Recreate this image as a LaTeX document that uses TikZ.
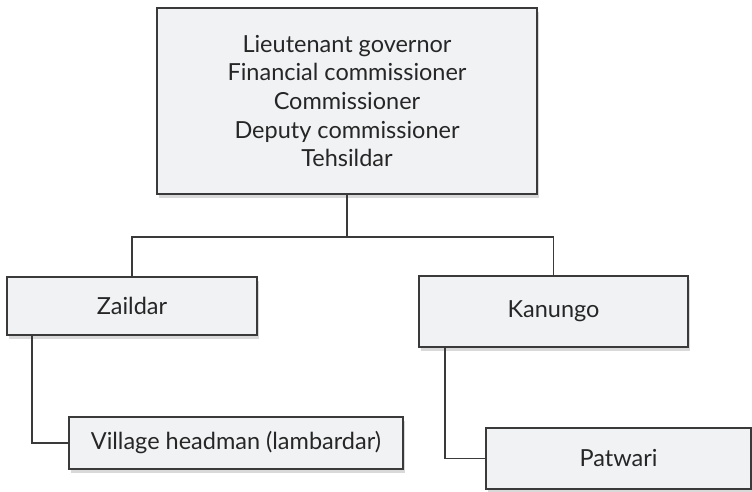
\documentclass[tikz,border=0pt]{standalone}
\usepackage{fontspec}
\setmainfont{Lato}
\usetikzlibrary{shadows}

\definecolor{boxfill}{HTML}{F1F2F4}
\definecolor{boxline}{HTML}{3A3A3A}
\definecolor{txt}{HTML}{262626}

\begin{document}
\begin{tikzpicture}[x=1pt,y=-1pt,
        rank/.style={draw=boxline, line width=1.8pt, fill=boxfill, text=txt,
            font=\fontsize{23.5}{28.7}\selectfont, align=center, inner sep=0pt,
            drop shadow={shadow xshift=2pt, shadow yshift=-4pt, opacity=0.3}},
        link/.style={draw=boxline, line width=1.4pt}]
                \useasboundingbox (0,0) rectangle (752,491);

                \node[rank, minimum width=380pt, minimum height=186pt] (governor) at (347,101)
                    {Lieutenant governor\\Financial commissioner\\Commissioner\\Deputy commissioner\\Tehsildar};

                \node[rank, minimum width=250pt, minimum height=58pt] (zaildar) at (132,306) {Zaildar};
                \node[rank, minimum width=269pt, minimum height=71pt] (kanungo) at (553.5,311.5) {Kanungo};

                \node[rank, minimum width=334pt, minimum height=52pt] (headman) at (236,443) {Village headman (lambardar)};
                \node[rank, minimum width=265pt, minimum height=61pt] (patwari) at (618.5,458.5) {Patwari};

                \draw[link] (governor.south) -- ++(0,42) coordinate (split);
                \draw[link] (zaildar.north) |- (split) -| (kanungo.north);

                \draw[link] ([xshift=26pt]zaildar.south west) |- (headman.west);
                \draw[link] ([xshift=27pt]kanungo.south west) |- (patwari.west);

\end{tikzpicture}
\end{document}
